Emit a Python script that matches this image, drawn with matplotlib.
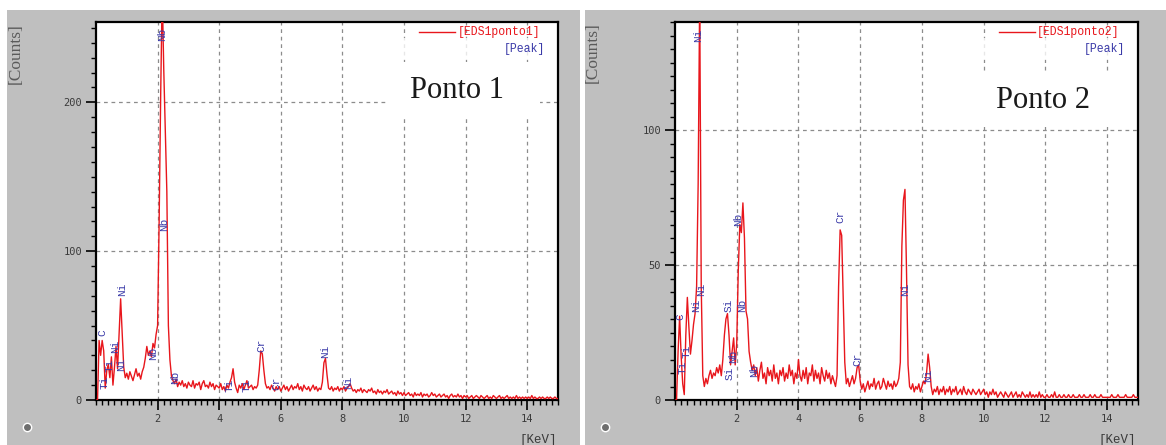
import numpy as np
import matplotlib
matplotlib.use("Agg")
import matplotlib.pyplot as plt
from matplotlib.patches import Rectangle
from matplotlib.ticker import MultipleLocator, FixedLocator

# ---------------------------------------------------------------- data
CHANNEL_WIDTH = 0.05  # keV per channel

# counts per channel, one row per keV (0.00 .. 0.95, 1.00 .. 1.95, ...)
counts_ponto1 = [
    0, 0, 40, 30, 40, 33, 8, 20, 24, 15, 29, 10, 22, 36, 21, 45, 68, 45, 22, 15,
    18, 14, 19, 16, 13, 17, 21, 16, 18, 14, 19, 22, 28, 36, 30, 33, 29, 38, 35, 44,
    50, 120, 205, 275, 222, 182, 140, 50, 27, 16, 13, 11, 14, 9, 12, 10, 13, 9, 11, 8,
    12, 10, 9, 13, 8, 11, 10, 12, 7, 11, 13, 9, 10, 8, 12, 9, 11, 7, 10, 9,
    8, 11, 7, 9, 6, 10, 8, 12, 15, 21, 12, 8, 5, 10, 8, 11, 7, 10, 13, 8,
    9, 10, 7, 9, 8, 10, 20, 33, 31, 20, 11, 8, 9, 7, 10, 8, 6, 9, 7, 9,
    6, 8, 10, 7, 9, 6, 8, 10, 7, 9, 8, 11, 7, 9, 6, 10, 8, 7, 9, 6,
    8, 10, 7, 9, 6, 8, 7, 12, 25, 28, 17, 8, 7, 9, 6, 8, 7, 9, 6, 8,
    7, 9, 6, 8, 9, 11, 8, 6, 7, 5, 7, 6, 8, 5, 7, 6, 5, 7, 6, 8,
    5, 6, 4, 7, 5, 6, 4, 6, 5, 7, 4, 5, 6, 4, 5, 3, 6, 4, 5, 3,
    5, 3, 4, 5, 3, 4, 2, 5, 3, 4, 3, 5, 2, 4, 3, 4, 2, 3, 5, 3,
    4, 2, 3, 4, 2, 3, 4, 2, 3, 1, 3, 4, 2, 3, 2, 4, 2, 3, 1, 3,
    2, 3, 1, 2, 3, 1, 2, 3, 2, 1, 3, 2, 1, 2, 3, 1, 2, 1, 3, 2,
    1, 2, 3, 1, 2, 1, 2, 3, 1, 2, 1, 2, 1, 3, 1, 2, 1, 2, 1, 2,
    1, 2, 1, 3, 1, 2, 1, 1, 2, 1, 2, 1, 1, 2, 1, 2, 1, 1, 2, 1,
    1,
]

counts_ponto2 = [
    0, 0, 18, 31, 16, 6, 2, 24, 38, 27, 17, 22, 28, 32, 42, 80, 150, 42, 9, 5,
    8, 6, 9, 11, 8, 10, 9, 12, 10, 13, 9, 15, 24, 30, 32, 24, 13, 18, 23, 13,
    21, 48, 65, 62, 73, 60, 33, 30, 18, 14, 11, 13, 9, 12, 7, 11, 14, 8, 10, 6,
    12, 9, 11, 7, 13, 8, 10, 6, 11, 9, 12, 7, 10, 8, 13, 9, 11, 6, 10, 8,
    15, 9, 7, 11, 8, 12, 6, 10, 9, 13, 7, 11, 8, 10, 6, 12, 9, 7, 11, 8,
    10, 6, 9, 7, 5, 9, 42, 63, 61, 38, 14, 6, 8, 5, 7, 9, 6, 8, 12, 13,
    7, 4, 6, 3, 5, 7, 4, 6, 5, 8, 4, 6, 7, 4, 5, 8, 6, 4, 7, 5,
    6, 4, 7, 5, 6, 8, 14, 57, 74, 78, 48, 13, 5, 4, 6, 3, 5, 4, 6, 3,
    5, 7, 6, 10, 17, 12, 5, 2, 4, 3, 5, 2, 4, 3, 5, 2, 4, 3, 5, 2,
    4, 3, 5, 2, 3, 4, 2, 5, 3, 2, 4, 3, 2, 4, 3, 2, 3, 4, 2, 3,
    4, 2, 3, 1, 3, 2, 4, 2, 3, 1, 2, 3, 2, 1, 3, 2, 1, 2, 3, 1,
    2, 3, 1, 2, 1, 3, 2, 1, 2, 1, 3, 1, 2, 1, 2, 1, 3, 1, 2, 1,
    1, 2, 1, 1, 2, 1, 3, 1, 1, 2, 1, 1, 2, 1, 1, 2, 1, 1, 2, 1,
    1, 1, 2, 1, 1, 2, 1, 1, 1, 2, 1, 1, 2, 1, 1, 1, 2, 1, 1, 1,
    1, 1, 1, 2, 1, 1, 1, 2, 1, 1, 1, 1, 2, 1, 1, 1, 1, 2, 1, 1,
    1,
]

# peak identifications: element, energy (keV), label height (counts)
peaks1_el = ["C", "Ti", "Ti", "Ni", "Ni", "Ni", "Nb", "Nb", "Nb", "Nb",
             "Ti", "Ti", "Cr", "Cr", "Ni", "Ni"]
peaks1_e = [0.22, 0.29, 0.45, 0.62, 0.80, 0.84, 1.86, 2.14, 2.22, 2.56,
            4.34, 4.90, 5.37, 5.85, 7.44, 8.20]
peaks1_y = [45, 12, 23, 36, 24, 74, 31, 246, 118, 15,
            10, 10, 37, 11, 33, 12]

peaks2_el = ["C", "Ti", "Ti", "Ni", "Ni", "Ni", "Si", "Si", "Nb", "Nb",
             "Nb", "Nb", "Cr", "Cr", "Ni", "Ni"]
peaks2_e = [0.16, 0.25, 0.38, 0.70, 0.76, 0.86, 1.73, 1.78, 1.89, 2.05,
            2.19, 2.56, 5.35, 5.90, 7.45, 8.20]
peaks2_y = [31, 12, 18, 35, 135, 41, 35, 10, 16, 67,
            35, 11, 68, 15, 41, 9]

# ---------------------------------------------------------------- style
RED = "#e8161c"
BLUE = "#3a3aa8"
GRID = "#8c8c8c"
PANEL = "#bfbfbf"
MONO = "Liberation Mono"
SERIF = "Liberation Serif"

W, H = 1166, 445
fig = plt.figure(figsize=(W / 100, H / 100), dpi=100)
fig.patch.set_facecolor("white")


def fx(px):
    return px / W


def fy(py):
    return 1 - py / H


# grey panel backgrounds
for x0, x1 in [(7, 580), (585, 1166)]:
    fig.patches.append(Rectangle((fx(x0), 0), fx(x1) - fx(x0), fy(10),
                                 transform=fig.transFigure,
                                 facecolor=PANEL, edgecolor="none",
                                 zorder=-10))


def spectrum_panel(ax_px, counts, ymax, ymajor, yminor, peaks, name, title,
                   title_xy, box, count_px, kev_px, icon_px):
    left, top, right, bottom = ax_px
    ax = fig.add_axes([fx(left), fy(bottom), fx(right) - fx(left),
                       fy(top) - fy(bottom)])
    ax.set_zorder(1)
    ax.set_facecolor("white")
    energy = np.arange(len(counts)) * CHANNEL_WIDTH
    ax.plot(energy, counts, color=RED, lw=1.0, zorder=3)

    ax.set_xlim(0, 15)
    ax.set_ylim(0, ymax)
    ax.xaxis.set_major_locator(FixedLocator([2, 4, 6, 8, 10, 12, 14]))
    ax.xaxis.set_minor_locator(MultipleLocator(0.2))
    ax.yaxis.set_major_locator(MultipleLocator(ymajor))
    ax.yaxis.set_minor_locator(MultipleLocator(yminor))
    ax.set_axisbelow(True)
    ax.grid(which="major", color=GRID, linestyle=(0, (3, 3)), linewidth=0.9)

    ax.tick_params(which="major", length=7, width=1.2, direction="out",
                   color="black", labelcolor="#3a3a3a", labelsize=7.5, pad=3)
    ax.tick_params(which="minor", length=3.5, width=1.0, direction="out",
                   color="black")
    for lab in ax.get_xticklabels() + ax.get_yticklabels():
        lab.set_family("DejaVu Sans Mono")
    for sp in ax.spines.values():
        sp.set_linewidth(1.6)
        sp.set_color("black")

    # white panel behind the point title
    bx0, bx1, by0, by1 = box
    ax.add_patch(Rectangle((bx0, by0), bx1 - bx0, by1 - by0,
                           facecolor="white", edgecolor="none", zorder=1))
    ax.text(title_xy[0], title_xy[1], title, family=SERIF, fontsize=22,
            color="#1a1a1a", ha="center", va="center", zorder=4)

    # legend
    ax.add_patch(Rectangle((0.615, 0.90), 0.363, 0.058, transform=ax.transAxes,
                           facecolor="white", alpha=0.8, edgecolor="none",
                           zorder=1))
    ax.plot([0.700, 0.778], [0.9735, 0.9735], color=RED, lw=1.0,
            transform=ax.transAxes, zorder=4)
    ax.text(0.782, 0.9735, "[" + name + "]", transform=ax.transAxes,
            family=MONO, fontsize=8.3, color=RED, ha="left", va="center",
            zorder=4)
    ax.text(0.971, 0.929, "[Peak]", transform=ax.transAxes, family=MONO,
            fontsize=8.3, color=BLUE, ha="right", va="center", zorder=4)

    # peak markers
    for el, e, y in zip(*peaks):
        ax.text(e, y, el, rotation=90, family=MONO, fontsize=8, color=BLUE,
                ha="center", va="center", zorder=5)

    # axis captions
    fig.text(fx(count_px[0]), fy(count_px[1]), "[Counts]", rotation=90,
             family=SERIF, fontsize=12.5, color="#5a5a5a",
             ha="center", va="center")
    fig.text(fx(kev_px[0]), fy(kev_px[1]), "[KeV]", family=MONO, fontsize=9,
             color="#3a3a3a", ha="right", va="top")
    fig.add_artist(plt.Line2D([fx(icon_px[0])], [fy(icon_px[1])],
                              marker="o", markersize=6, color="#6e6e6e",
                              markeredgecolor="white", markeredgewidth=1.0,
                              transform=fig.transFigure))
    return ax


spectrum_panel((96, 22, 558, 400), counts_ponto1, 254, 100, 10,
               (peaks1_el, peaks1_e, peaks1_y), "EDS1ponto1", "Ponto 1",
               (11.73, 208), (9.5, 14.4, 190, 227),
               (16, 54), (557, 434), (27, 427))
spectrum_panel((675, 22, 1138, 400), counts_ponto2, 140, 50, 5,
               (peaks2_el, peaks2_e, peaks2_y), "EDS1ponto2", "Ponto 2",
               (11.92, 111), (8.9, 14.9, 101, 122),
               (593, 53), (1136, 434), (605, 427))

fig.savefig("out.png", dpi=100)
